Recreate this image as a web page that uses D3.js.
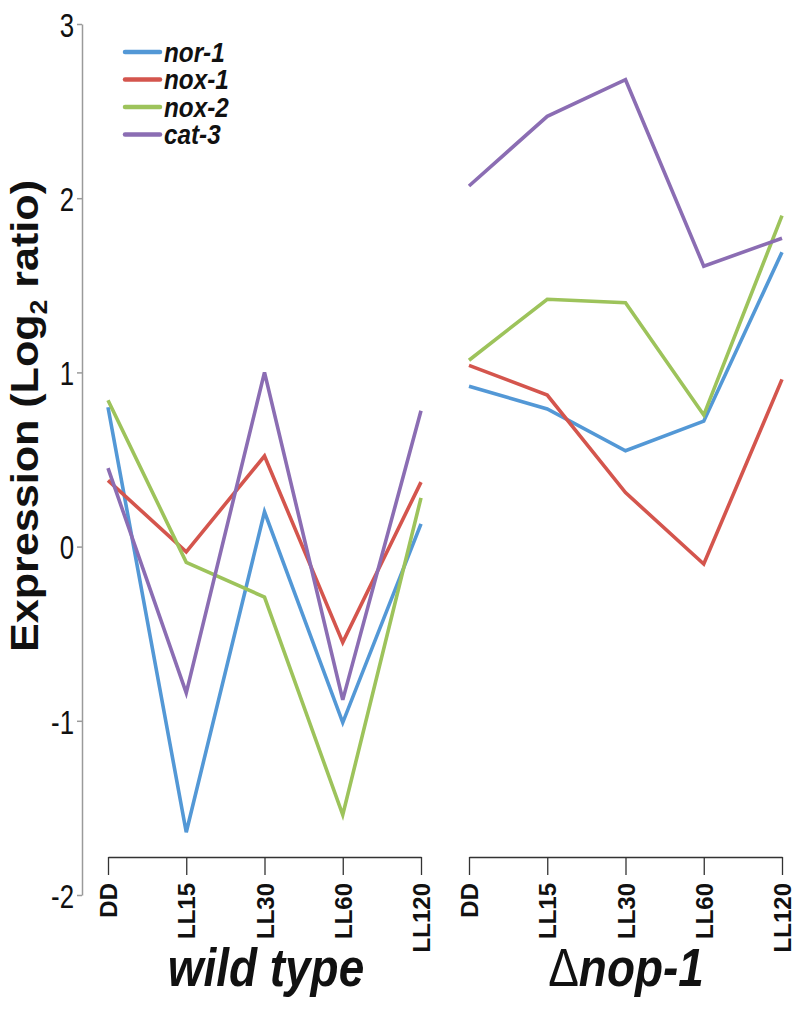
<!DOCTYPE html>
<html>
<head>
<meta charset="utf-8">
<script src="https://cdn.jsdelivr.net/npm/d3@7"></script>
<style>
  html, body { margin: 0; padding: 0; background: #fff; }
  svg { display: block; }
</style>
</head>
<body>
<svg id="chart" width="800" height="1009"></svg>
<script>
// ---- data ----
const timepoints = ["DD", "LL15", "LL30", "LL60", "LL120"];
const genes = ["nor-1", "nox-1", "nox-2", "cat-3"];
const geneColors = ["#5398d6", "#d4554d", "#9dc35b", "#8b6db3"];
const yTicks = [-2, -1, 0, 1, 2, 3];
const panelTitles = ["wild type", "nop-1"];

// wild type
const wtNor1 = [0.80, -1.64, 0.20, -1.01, 0.13];
const wtNox1 = [0.38, -0.03, 0.52, -0.55, 0.37];
const wtNox2 = [0.84, -0.09, -0.29, -1.54, 0.28];
const wtCat3 = [0.45, -0.84, 1.00, -0.88, 0.78];
// delta nop-1
const mutNor1 = [0.92, 0.79, 0.55, 0.72, 1.69];
const mutNox1 = [1.04, 0.87, 0.31, -0.10, 0.96];
const mutNox2 = [1.07, 1.42, 1.40, 0.755, 1.90];
const mutCat3 = [2.07, 2.47, 2.68, 1.61, 1.77];

const wtSeries = [wtNor1, wtNox1, wtNox2, wtCat3];
const mutSeries = [mutNor1, mutNox1, mutNox2, mutCat3];

// ---- drawing ----
const svg = d3.select("#chart");
const y = d3.scaleLinear().domain([-2, 3]).range([895, 24]);
const xL = d3.scalePoint().domain(timepoints).range([108, 421]);
const xR = d3.scalePoint().domain(timepoints).range([469, 782]);

// y axis
const yAxis = svg.append("g")
  .attr("transform", "translate(82,0)")
  .call(d3.axisLeft(y).tickValues(yTicks).tickSize(5).tickSizeOuter(0).tickPadding(3)
    .tickFormat(d => String(d)));
yAxis.select(".domain").attr("stroke", "#9a9a9a").attr("stroke-width", 1.5);
yAxis.selectAll(".tick line").attr("stroke", "#9a9a9a").attr("stroke-width", 1.5);
yAxis.selectAll(".tick text")
  .attr("font-family", "'Liberation Sans', Arial, sans-serif")
  .attr("font-size", 34).attr("fill", "#111").attr("dy", "0.36em")
  .attr("x", -8 / 0.76)
  .attr("transform", "scale(0.76,1)");

// y title
const yt = svg.append("text")
  .attr("transform", "translate(38,416) rotate(-90)")
  .attr("text-anchor", "middle")
  .attr("font-family", "'Liberation Sans', Arial, sans-serif")
  .attr("font-weight", "bold").attr("font-size", 39).attr("fill", "#111")
  .attr("textLength", 472).attr("lengthAdjust", "spacingAndGlyphs");
yt.append("tspan").text("Expression (Log");
yt.append("tspan").text("2").attr("font-size", 24).attr("dy", 9);
yt.append("tspan").text(" ratio)").attr("dy", -9);

// x axes
[xL, xR].forEach(x => {
  const g = svg.append("g").attr("transform", "translate(0,857)")
    .call(d3.axisBottom(x).tickSize(18).tickSizeOuter(0));
  g.select(".domain").attr("stroke", "#333").attr("stroke-width", 1.3);
  g.selectAll(".tick line").attr("stroke", "#333").attr("stroke-width", 1.3);
  g.selectAll(".tick text")
    .attr("transform", "translate(0,26) rotate(-90)")
    .attr("x", 0).attr("y", 0).attr("dy", "0.36em")
    .attr("text-anchor", "end")
    .attr("font-family", "'Liberation Sans', Arial, sans-serif")
    .attr("font-weight", "bold").attr("font-size", 24).attr("fill", "#111");
});

// lines
const drawPanel = (x, series) => {
  const line = d3.line().x((d, i) => x(timepoints[i])).y(d => y(d));
  svg.append("g").selectAll("path").data(series).join("path")
    .attr("d", d => line(d))
    .attr("fill", "none")
    .attr("stroke", (d, i) => geneColors[i])
    .attr("stroke-width", 3.6)
    .attr("stroke-linejoin", "miter");
};
drawPanel(xL, wtSeries);
drawPanel(xR, mutSeries);

// legend
const lg = svg.append("g");
genes.forEach((gname, i) => {
  const yy = 52 + i * 27.5;
  lg.append("line").attr("x1", 125).attr("x2", 160).attr("y1", yy).attr("y2", yy)
    .attr("stroke", geneColors[i]).attr("stroke-width", 4.5).attr("stroke-linecap", "round");
  lg.append("text").attr("x", 164 / 0.9).attr("y", yy).attr("dy", "0.36em")
    .attr("transform", "scale(0.9,1)")
    .attr("font-family", "'Liberation Sans', Arial, sans-serif")
    .attr("font-weight", "bold").attr("font-style", "italic")
    .attr("font-size", 27).attr("fill", "#111").text(gname);
});

// panel titles
const sx = 0.85;
svg.append("text").attr("x", 266 / sx).attr("y", 986).attr("text-anchor", "middle")
  .attr("transform", `scale(${sx},1)`)
  .attr("font-family", "'Liberation Sans', Arial, sans-serif")
  .attr("font-weight", "bold").attr("font-style", "italic")
  .attr("font-size", 54).attr("fill", "#111").text(panelTitles[0]);
const t2 = svg.append("text").attr("x", 626 / sx).attr("y", 986).attr("text-anchor", "middle")
  .attr("transform", `scale(${sx},1)`)
  .attr("font-family", "'Liberation Sans', Arial, sans-serif")
  .attr("font-weight", "bold").attr("font-size", 54).attr("fill", "#111");
t2.append("tspan").attr("font-weight", "normal").text("\u0394");
t2.append("tspan").attr("font-style", "italic").text(panelTitles[1]);
</script>
</body>
</html>
